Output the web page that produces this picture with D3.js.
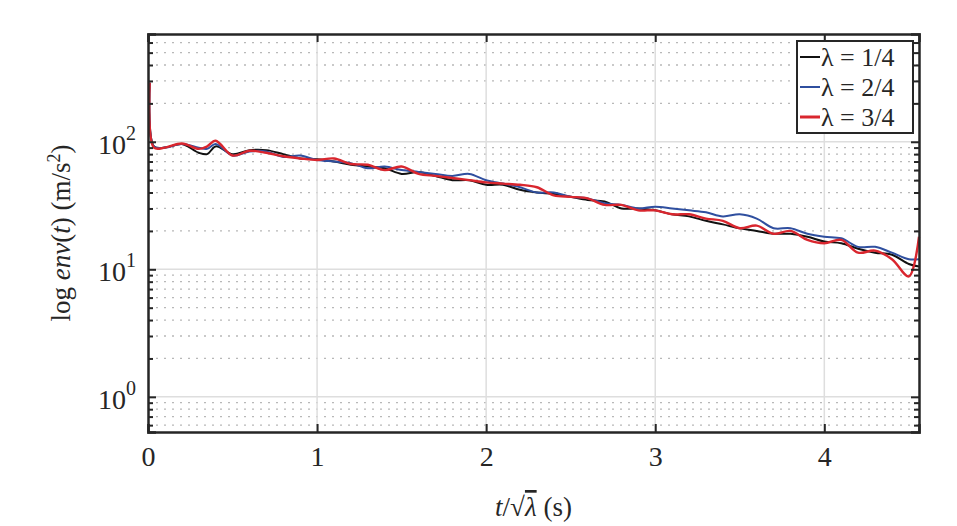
<!DOCTYPE html>
<html>
<head>
<script src="https://cdn.jsdelivr.net/npm/d3@7"></script>
<style>
body { margin: 0; background: #fff; }
svg text { font-family: 'Liberation Serif', 'Times New Roman', 'DejaVu Serif', serif !important; fill: #262626; }
</style>
</head>
<body>
<svg id="chart" width="957" height="526"></svg>
<script>
// time values (t / sqrt(lambda), s)
var tVals = [0.01, 0.035, 0.1, 0.2, 0.3, 0.35, 0.4,
  0.5, 0.6, 0.7, 0.8, 0.9, 1.0, 1.1, 1.2, 1.3, 1.4, 1.5, 1.6, 1.7, 1.8, 1.9,
  2.0, 2.1, 2.2, 2.3, 2.4, 2.5, 2.6, 2.7, 2.8, 2.9, 3.0, 3.1, 3.2, 3.3, 3.4,
  3.5, 3.6, 3.7, 3.8, 3.9, 4.0, 4.1, 4.2, 4.3, 4.4, 4.5, 4.56];
var env1 = [290, 92, 90, 96, 82, 80, 92,
  80, 86, 86, 80, 74, 73, 70, 66, 64, 62, 56, 58, 54, 50, 50, 46, 46, 42, 40, 39,
  37, 35, 34, 30, 30, 29, 27, 26, 24, 22.5, 21, 20, 19, 19, 18, 16.5, 16, 14.5, 13.5, 13, 11, 10.5];
var env2 = [290, 92, 90, 96, 90, 88, 96,
  78, 84, 84, 76, 78, 72, 70, 68, 62, 64, 60, 58, 56, 54, 56, 50, 47, 44, 40, 40,
  37, 36, 33, 32, 30, 31, 30, 29, 28, 26, 27, 25, 21, 21, 19, 18, 17.5, 15, 15, 13.5, 12, 12];
var env3 = [290, 90, 90, 97, 88, 92, 102,
  78, 85, 82, 77, 74, 72, 74, 67, 66, 60, 64, 56, 54, 52, 50, 48, 47, 46, 44, 38,
  37, 36, 32, 32, 29, 29, 27, 27, 25, 24, 21, 22, 19, 20, 17, 16, 17, 13.5, 14, 12, 8.8, 18];
var seriesNames = ["\u03bb = 1/4", "\u03bb = 2/4", "\u03bb = 3/4"];
var seriesColors = ["#111111", "#2f4f9f", "#d9262e"];
var xTicks = [0, 1, 2, 3, 4];
var yTicks = [1, 10, 100];

var svg = d3.select("#chart");
var L = 148, R = 919, T = 34, B = 432;

var x = d3.scaleLinear().domain([0, 4.56]).range([L, R]);
var y = d3.scaleLog().domain([0.53, 700]).range([B, T]);

// minor horizontal grid (dotted)
var minors = [];
[0.1, 1, 10, 100].forEach(function(d) {
  for (var k = 2; k <= 9; k++) {
    var v = d * k;
    if (v > 0.53 && v < 700) minors.push(v);
  }
});
svg.append("g").selectAll("line").data(minors).enter().append("line")
  .attr("x1", L).attr("x2", R)
  .attr("y1", function(d) { return y(d); }).attr("y2", function(d) { return y(d); })
  .attr("stroke", "#b8b8b8").attr("stroke-width", 1.3).attr("stroke-dasharray", "2,6");

// major grid
svg.append("g").selectAll("line").data(yTicks).enter().append("line")
  .attr("x1", L).attr("x2", R)
  .attr("y1", function(d) { return y(d); }).attr("y2", function(d) { return y(d); })
  .attr("stroke", "#dedede").attr("stroke-width", 1.5);
svg.append("g").selectAll("line").data(xTicks.slice(1)).enter().append("line")
  .attr("y1", T).attr("y2", B)
  .attr("x1", function(d) { return x(d); }).attr("x2", function(d) { return x(d); })
  .attr("stroke", "#dedede").attr("stroke-width", 1.5);

// curves
var datasets = [env1, env2, env3];
var line = d3.line()
  .x(function(d) { return x(d[0]); })
  .y(function(d) { return y(d[1]); })
  .curve(d3.curveCatmullRom);
datasets.forEach(function(vals, i) {
  svg.append("path")
    .datum(tVals.map(function(t, j) { return [t, vals[j]]; }))
    .attr("fill", "none")
    .attr("stroke", seriesColors[i])
    .attr("stroke-width", i == 2 ? 2.4 : 2)
    .attr("d", line);
});

// axes
var tickLen = 8;
var gx = svg.append("g").attr("transform", "translate(0," + B + ")")
  .call(d3.axisBottom(x).tickValues(xTicks).tickSize(-tickLen).tickPadding(14).tickFormat(d3.format("d")));
var gxt = svg.append("g").attr("transform", "translate(0," + T + ")")
  .call(d3.axisTop(x).tickValues(xTicks).tickSize(-tickLen).tickFormat(""));
var gy = svg.append("g").attr("transform", "translate(" + L + ",0)")
  .call(d3.axisLeft(y).tickValues(yTicks.concat(minors)).tickSize(-tickLen).tickFormat(""));
var gyr = svg.append("g").attr("transform", "translate(" + R + ",0)")
  .call(d3.axisRight(y).tickValues(yTicks.concat(minors)).tickSize(-tickLen).tickFormat(""));
[gy, gyr].forEach(function(g) {
  g.selectAll(".tick line").attr("x2", function(d) {
    var big = yTicks.indexOf(d) >= 0 ? tickLen : 5;
    return g === gy ? big : -big;
  });
});
[gx, gxt, gy, gyr].forEach(function(g) {
  g.select(".domain").attr("stroke", "#262626").attr("stroke-width", 2.5);
  g.selectAll(".tick line").attr("stroke", "#262626").attr("stroke-width", 2);
});
gx.attr("font-size", 28);
gx.selectAll(".tick text").attr("fill", "#262626");

// y tick labels 10^n
yTicks.forEach(function(v, i) {
  var t = svg.append("text").attr("x", L - 12).attr("y", y(v) + 12)
    .attr("text-anchor", "end").style("font-size", "28px");
  t.append("tspan").text("10");
  t.append("tspan").attr("dy", -14).style("font-size", "20px").text(String(Math.round(Math.log10(v))));
});

// axis labels
var xl = svg.append("text").attr("x", (L + R) / 2).attr("y", 516)
  .attr("text-anchor", "middle").style("font-size", "27px");
xl.append("tspan").style("font-style", "italic").text("t");
xl.append("tspan").text("/\u221a");
xl.append("tspan").style("font-style", "italic").style("text-decoration", "overline").text("\u03bb");
xl.append("tspan").text("  (s)");

var yl = svg.append("text").attr("transform", "translate(70," + ((T + B) / 2) + ") rotate(-90)")
  .attr("text-anchor", "middle").style("font-size", "27px");
yl.append("tspan").text("log ");
yl.append("tspan").style("font-style", "italic").text("env");
yl.append("tspan").text("(");
yl.append("tspan").style("font-style", "italic").text("t");
yl.append("tspan").text(")  (m/s");
yl.append("tspan").attr("dy", -10).style("font-size", "18px").text("2");
yl.append("tspan").attr("dy", 10).text(")");

// legend
var lg = svg.append("g");
lg.append("rect").attr("x", 797).attr("y", 41).attr("width", 116).attr("height", 92)
  .attr("fill", "#fff").attr("stroke", "#262626").attr("stroke-width", 2);
seriesNames.forEach(function(n, i) {
  var yy = 57 + i * 30;
  lg.append("line").attr("x1", 800).attr("x2", 820).attr("y1", yy).attr("y2", yy)
    .attr("stroke", seriesColors[i]).attr("stroke-width", i == 2 ? 3 : 2);
  lg.append("text").attr("x", 821).attr("y", yy + 9).style("font-size", "26px").text(n);
});
</script>
</body>
</html>
